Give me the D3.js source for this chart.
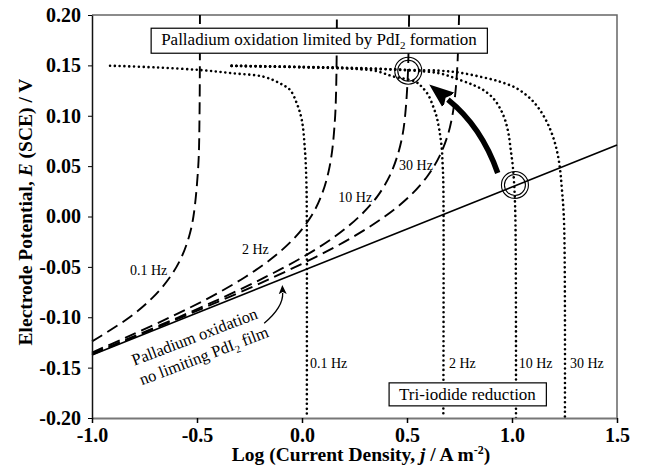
<!DOCTYPE html>
<html>
<head>
<meta charset="utf-8">
<script src="https://cdnjs.cloudflare.com/ajax/libs/d3/7.8.5/d3.min.js"></script>
<style>
  body { margin: 0; background: #fff; }
  svg { display: block; font-family: "Liberation Serif", "Times New Roman", serif; }
</style>
</head>
<body>
<div class="canvas"></div>
<script>
const dims = {
    width: 656,
    height: 469,
    left: 92,
    right: 617,
    top: 15,
    bottom: 418
};

const xTicks = [-1.0, -0.5, 0.0, 0.5, 1.0, 1.5];
const yTicks = [-0.20, -0.15, -0.10, -0.05, 0.00, 0.05, 0.10, 0.15, 0.20];
const freqLabels = ['0.1 Hz', '2 Hz', '10 Hz', '30 Hz'];

// [log j, E]
// palladium oxidation, no limiting film (solid)
const noFilm = [[-1.0, -0.1375], [1.5, 0.071]];

// palladium oxidation limited by PdI2 (dashed)
const dash01 = [[-1.0, -0.124], [-0.821, -0.10], [-0.709, -0.08], [-0.628, -0.06], [-0.573, -0.04],
    [-0.538, -0.02], [-0.517, 0.0], [-0.494, 0.05], [-0.488, 0.10], [-0.486, 0.20]];
const dash2 = [[-1.0, -0.135], [-0.837, -0.12], [-0.628, -0.10], [-0.436, -0.08], [-0.270, -0.06],
    [-0.134, -0.04], [-0.030, -0.02], [0.043, 0.0], [0.091, 0.02], [0.132, 0.05], [0.158, 0.10], [0.166, 0.20]];
const dash10 = [[-1.0, -0.136], [-0.813, -0.12], [-0.588, -0.10], [-0.373, -0.08], [-0.173, -0.06],
    [0.006, -0.04], [0.156, -0.02], [0.273, 0.0], [0.359, 0.02], [0.417, 0.04], [0.454, 0.06],
    [0.478, 0.08], [0.491, 0.10], [0.504, 0.14], [0.510, 0.20]];
const dash30 = [[-1.0, -0.137], [-0.573, -0.10], [-0.348, -0.08], [-0.133, -0.06], [0.067, -0.04],
    [0.245, -0.02], [0.394, 0.0], [0.512, 0.02], [0.597, 0.04], [0.655, 0.06], [0.693, 0.08],
    [0.716, 0.10], [0.729, 0.12], [0.740, 0.15], [0.748, 0.20]];

// tri-iodide reduction (dotted)
const dot01 = [[-0.914, 0.1497], [-0.70, 0.1480], [-0.486, 0.1454], [-0.327, 0.1421], [-0.184, 0.1388],
    [-0.105, 0.1322], [-0.057, 0.1256], [-0.025, 0.1124], [-0.001, 0.0958], [0.014, 0.066],
    [0.021, 0.033], [0.023, -0.01], [0.023, -0.20]];
const dot2 = [[-0.335, 0.1495], [0.0, 0.1482], [0.25, 0.1465], [0.35, 0.1445], [0.435, 0.139],
    [0.54, 0.1338], [0.57, 0.1288], [0.60, 0.121], [0.625, 0.109], [0.641, 0.099], [0.654, 0.0858],
    [0.665, 0.069], [0.670, 0.05], [0.673, 0.033], [0.673, -0.20]];
const dot10 = [[-0.335, 0.1495], [0.0, 0.1482], [0.25, 0.147], [0.51, 0.145], [0.657, 0.142],
    [0.752, 0.1355], [0.816, 0.1305], [0.863, 0.1256], [0.911, 0.1173], [0.943, 0.1074],
    [0.967, 0.0958], [0.983, 0.0826], [0.994, 0.066], [1.004, 0.0495], [1.010, 0.033],
    [1.016, 0.0], [1.019, -0.20]];
const dot30 = [[-0.335, 0.1497], [0.0, 0.1485], [0.25, 0.1475], [0.51, 0.1455], [0.657, 0.1447],
    [0.752, 0.1427], [0.848, 0.1388], [0.943, 0.1338], [1.022, 0.1272], [1.086, 0.1173],
    [1.133, 0.1057], [1.173, 0.0908], [1.205, 0.0726], [1.225, 0.0528], [1.238, 0.0263],
    [1.248, -0.0065], [1.252, -0.20]];

// label anchors [log j, E]
const dashLabelPos = [[-0.819, -0.058], [-0.286, -0.0377], [0.173, 0.0147], [0.462, 0.0462]];
const dotLabelPos = [[0.038, -0.150], [0.700, -0.150], [1.032, -0.150], [1.276, -0.150]];
const circlePos = [[0.506, 0.1447], [1.014, 0.0313]];

const svg = d3.select('.canvas')
    .append('svg')
    .attr('width', dims.width)
    .attr('height', dims.height);

const x = d3.scaleLinear().domain([-1.0, 1.5]).range([dims.left, dims.right]);
const y = d3.scaleLinear().domain([-0.20, 0.20]).range([dims.bottom, dims.top]);

const line = d3.line()
    .x(d => x(d[0]))
    .y(d => y(d[1]))
    .curve(d3.curveCatmullRom.alpha(0.5));

// frame (top / right)
svg.append('path')
    .attr('d', `M${x(-1.0)},${y(0.2)}H${x(1.5)}V${y(-0.2)}`)
    .attr('fill', 'none')
    .attr('stroke', '#666')
    .attr('stroke-width', 1.5);

const curves = svg.append('g');

curves.append('path')
    .attr('d', line(noFilm))
    .attr('fill', 'none')
    .attr('stroke', '#000')
    .attr('stroke-width', 1.6);

[dash01, dash2, dash10, dash30].forEach(d => {
    curves.append('path')
        .attr('d', line(d))
        .attr('fill', 'none')
        .attr('stroke', '#000')
        .attr('stroke-width', 1.9)
        .attr('stroke-dasharray', '12 6');
});

[dot01, dot2, dot10, dot30].forEach(d => {
    curves.append('path')
        .attr('d', line(d))
        .attr('fill', 'none')
        .attr('stroke', '#000')
        .attr('stroke-width', 2.6)
        .attr('stroke-linecap', 'round')
        .attr('stroke-dasharray', '0.01 4.8');
});

// axes
const xAxis = svg.append('g')
    .attr('transform', `translate(0,${dims.bottom})`)
    .call(d3.axisBottom(x).tickValues(xTicks).tickSize(5).tickSizeOuter(0));
xAxis.select('.domain').attr('stroke', '#777').attr('stroke-width', 1.8);
xAxis.selectAll('.tick line').attr('stroke-width', 1.5);
xAxis.selectAll('.tick text')
    .attr('y', 10)
    .attr('dy', '0.71em')
    .style('font-family', '"Liberation Serif", serif')
    .style('font-weight', 'bold')
    .style('font-size', '20px')
    .text(d => d3.format('.1f')(d).replace('−', '-'));

const yAxis = svg.append('g')
    .attr('transform', `translate(${dims.left},0)`)
    .call(d3.axisLeft(y).tickValues(yTicks).tickSize(4).tickSizeOuter(0));
yAxis.select('.domain').attr('stroke', '#111').attr('stroke-width', 1.5);
yAxis.selectAll('.tick text')
    .attr('x', -11)
    .style('font-family', '"Liberation Serif", serif')
    .style('font-weight', 'bold')
    .style('font-size', '20px')
    .text(d => d3.format('.2f')(d).replace('−', '-'));

// axis titles
const xTitle = svg.append('text')
    .attr('x', 361)
    .attr('y', 461)
    .attr('text-anchor', 'middle')
    .style('font-weight', 'bold')
    .style('font-size', '19.5px');
xTitle.append('tspan').text('Log (Current Density, ');
xTitle.append('tspan').style('font-style', 'italic').text('j');
xTitle.append('tspan').text(' / A m');
xTitle.append('tspan').attr('dy', -7).style('font-size', '12px').text('-2');
xTitle.append('tspan').attr('dy', 7).text(')');

const yTitle = svg.append('text')
    .attr('transform', `translate(32,212) rotate(-90)`)
    .attr('text-anchor', 'middle')
    .style('font-weight', 'bold')
    .style('font-size', '19.5px');
yTitle.append('tspan').text('Electrode Potential, ');
yTitle.append('tspan').style('font-style', 'italic').text('E');
yTitle.append('tspan').text(' (SCE) / V');

// frequency labels
const labels = svg.append('g').style('font-size', '14px');
labels.selectAll('.dashLabel')
    .data(dashLabelPos)
    .enter()
    .append('text')
    .attr('class', 'dashLabel')
    .attr('x', d => x(d[0]))
    .attr('y', d => y(d[1]))
    .text((d, i) => freqLabels[i]);
labels.selectAll('.dotLabel')
    .data(dotLabelPos)
    .enter()
    .append('text')
    .attr('class', 'dotLabel')
    .attr('x', d => x(d[0]))
    .attr('y', d => y(d[1]))
    .text((d, i) => freqLabels[i]);

// boxed captions
const boxedText = (cx, cy, parts) => {
    const g = svg.append('g');
    const rect = g.append('rect').attr('fill', '#fff').attr('stroke', '#000').attr('stroke-width', 1.2);
    const t = g.append('text')
        .attr('x', x(cx))
        .attr('y', y(cy))
        .attr('text-anchor', 'middle')
        .style('font-size', '17px');
    parts.forEach(p => {
        const s = t.append('tspan').text(p.text);
        if (p.sub) s.attr('dy', 4).style('font-size', '11px');
        if (p.back) s.attr('dy', -4);
    });
    const b = t.node().getBBox();
    rect.attr('x', b.x - 10).attr('y', b.y - 2).attr('width', b.width + 20).attr('height', b.height + 4);
};

boxedText(0.081, 0.170, [
    { text: 'Palladium oxidation limited by PdI' },
    { text: '2', sub: true },
    { text: ' formation', back: true }
]);
boxedText(0.788, -0.182, [{ text: 'Tri-iodide reduction' }]);

// rotated caption for the solid line
const rot = svg.append('g')
    .attr('transform', `translate(${x(-0.502)},${y(-0.1245)}) rotate(-21)`)
    .style('font-size', '16.5px')
    .attr('text-anchor', 'middle');
rot.append('text').text('Palladium oxidation');
const rot2 = rot.append('text').attr('x', 2).attr('y', 21);
rot2.append('tspan').text('no limiting PdI');
rot2.append('tspan').attr('dy', 4).style('font-size', '10.5px').text('2');
rot2.append('tspan').attr('dy', -4).text(' film');

// double circles
circlePos.forEach(d => {
    [13.5, 10.5].forEach(r => {
        svg.append('circle')
            .attr('cx', x(d[0]))
            .attr('cy', y(d[1]))
            .attr('r', r)
            .attr('fill', 'none')
            .attr('stroke', '#000')
            .attr('stroke-width', 1.1);
    });
});

// arrows
const defs = svg.append('defs');
defs.append('marker')
    .attr('id', 'bigHead')
    .attr('markerUnits', 'userSpaceOnUse')
    .attr('viewBox', '0 -11 24 22')
    .attr('refX', 0)
    .attr('refY', 0)
    .attr('markerWidth', 24)
    .attr('markerHeight', 22)
    .attr('orient', 'auto')
    .append('path')
    .attr('d', 'M-2,-10L24,0L-2,10L3,0Z')
    .attr('fill', '#000');
defs.append('marker')
    .attr('id', 'smallHead')
    .attr('markerUnits', 'userSpaceOnUse')
    .attr('viewBox', '0 -5 9 10')
    .attr('refX', 1)
    .attr('refY', 0)
    .attr('markerWidth', 9)
    .attr('markerHeight', 10)
    .attr('orient', 'auto')
    .append('path')
    .attr('d', 'M0,-4L9,0L0,4L2,0Z')
    .attr('fill', '#000');

const bigArrow = [[0.932, 0.0432], [0.854, 0.0894], [0.695, 0.116]];
svg.append('path')
    .attr('d', `M${x(bigArrow[0][0])},${y(bigArrow[0][1])}Q${x(bigArrow[1][0])},${y(bigArrow[1][1])} ${x(bigArrow[2][0])},${y(bigArrow[2][1])}`)
    .attr('fill', 'none')
    .attr('stroke', '#000')
    .attr('stroke-width', 5.5)
    .attr('marker-end', 'url(#bigHead)');

const smallArrow = [[-0.180, -0.106], [-0.089, -0.090], [-0.092, -0.076]];
svg.append('path')
    .attr('d', `M${x(smallArrow[0][0])},${y(smallArrow[0][1])}Q${x(smallArrow[1][0])},${y(smallArrow[1][1])} ${x(smallArrow[2][0])},${y(smallArrow[2][1])}`)
    .attr('fill', 'none')
    .attr('stroke', '#000')
    .attr('stroke-width', 1.3)
    .attr('marker-end', 'url(#smallHead)');
</script>
</body>
</html>
